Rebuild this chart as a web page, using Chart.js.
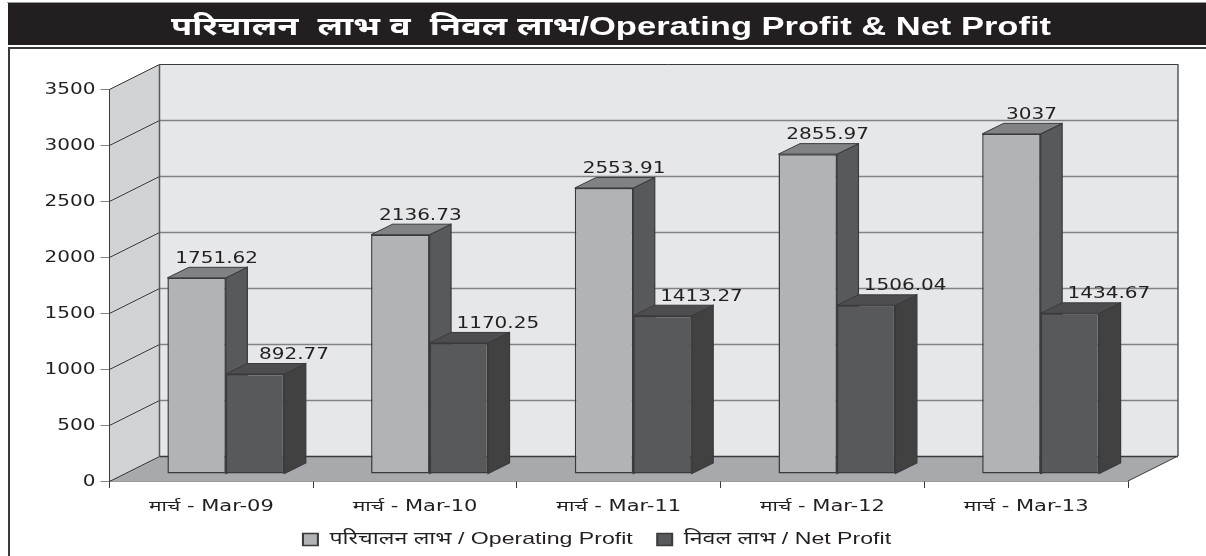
<!DOCTYPE html>
<html><head><meta charset="utf-8">
<style>html,body{margin:0;padding:0;background:#fff}canvas{display:block}</style>
<script src="https://cdn.jsdelivr.net/npm/chart.js@4"></script></head>
<body><div style="width:1206px;height:556px"><canvas id="c" width="1206" height="556"></canvas></div>
<script>
const categories = ['मार्च - Mar-09','मार्च - Mar-10','मार्च - Mar-11','मार्च - Mar-12','मार्च - Mar-13'];
const operatingProfit = [1751.62,2136.73,2553.91,2855.97,3037];
const netProfit = [892.77,1170.25,1413.27,1506.04,1434.67];
const seriesNames = ['परिचालन लाभ / Operating Profit','निवल लाभ / Net Profit'];
const titleText = 'परिचालन  लाभ व  निवल लाभ/Operating Profit & Net Profit';

const WALL = {dx:50, dy:-25}, FRONT = {dx:14.5, dy:-7}, BAR = {dx:21.5, dy:-10.5};
const sans = '"DejaVu Sans","Noto Sans",sans-serif';
const arial = '"Liberation Sans","Noto Sans",sans-serif';
const line = '#3a3a3c';
function poly(ctx, pts, fill, stroke, w){
  ctx.beginPath(); pts.forEach((p,i)=> i?ctx.lineTo(p[0],p[1]):ctx.moveTo(p[0],p[1])); ctx.closePath();
  if(fill){ctx.fillStyle=fill;ctx.fill();}
  if(stroke){ctx.strokeStyle=stroke;ctx.lineWidth=w||1;ctx.stroke();}
}
// The reference's type is stretched sideways: widen a box's drawing about a centre line.
function stretchBox(box, ctx, factor, cx){
  const orig = Object.getPrototypeOf(box).draw;
  box.draw = function(a){ ctx.save(); ctx.translate(cx,0); ctx.scale(factor,1); ctx.translate(-cx,0); orig.call(box,a); ctx.restore(); };
}
function stretchTicks(scale, ctx, factor, dy){
  const orig = Object.getPrototypeOf(scale).drawLabels;
  scale._computeLabelArea = ()=>undefined;
  scale.drawLabels = function(a){
    const items = scale.getLabelItems(a);
    items.forEach(it=>{
      const x = it.options.translation[0];
      scale._labelItems = [it];
      ctx.save(); ctx.translate(x,dy); ctx.scale(factor,1); ctx.translate(-x,0);
      orig.call(scale,a);
      ctx.restore();
    });
    scale._labelItems = items;
  };
}
const sideColors=['#58595b','#414142'], topColors=['#808285','#4d4d4f'];
const threeD = {
  id:'threeD',
  afterLayout(chart){
    const c=chart.ctx;
    chart.titleBlock.left+=8; chart.titleBlock.right+=8;
    stretchBox(chart.titleBlock,c,1.38,611);
    chart.legend.left-=6; chart.legend.right-=6; chart.legend.top+=2; chart.legend.bottom+=2;
    stretchBox(chart.legend,c,1.36,597);
    stretchTicks(chart.scales.y,c,1.25,1);
    stretchTicks(chart.scales.x,c,1.4,0);
  },
  beforeDraw(chart){
    const c=chart.ctx; c.save();
    c.fillStyle='#231f20'; c.fillRect(8,3,1198,42);
    c.fillStyle='#9a9a9a'; c.fillRect(7,2,1199,1);
    c.strokeStyle='#3a3a3c'; c.lineWidth=2;
    c.beginPath(); c.moveTo(9,560); c.lineTo(9,48); c.lineTo(1206,48); c.stroke();
    c.restore();
  },
  beforeDatasetsDraw(chart){
    const c=chart.ctx, a=chart.chartArea, y=chart.scales.y;
    c.save();
    const L=a.left,R=a.right,T=a.top,B=a.bottom,dx=WALL.dx,dy=WALL.dy;
    poly(c,[[L+dx,T+dy],[R+dx,T+dy],[R+dx,B+dy],[L+dx,B+dy]],'#e6e7e8');
    poly(c,[[L,T],[L+dx,T+dy],[L+dx,B+dy],[L,B]],'#d1d3d4');
    poly(c,[[L,B],[L+dx,B+dy],[R+dx,B+dy],[R,B]],'#a7a9ac');
    y.ticks.forEach(t=>{
      const py=Math.round(y.getPixelForValue(t.value))+.5;
      c.strokeStyle='#3a3a3c'; c.lineWidth=1;
      c.beginPath(); c.moveTo(L,py); c.lineTo(L+dx,py+dy); c.stroke();
      c.strokeStyle=t.value===0||t.value===3500?'#3a3a3c':'#808285'; c.lineWidth=t.value===3500?1:1.5;
      c.beginPath(); c.moveTo(L+dx,py+dy); c.lineTo(R+dx,py+dy); c.stroke();
    });
    c.strokeStyle='#58595b'; c.lineWidth=1.5;
    c.beginPath(); c.moveTo(L+dx,T+dy); c.lineTo(L+dx,B+dy);
    c.moveTo(R+dx,T+dy); c.lineTo(R+dx,B+dy); c.stroke();
    c.strokeStyle='#3a3a3c'; c.lineWidth=1;
    c.beginPath(); c.moveTo(R,B); c.lineTo(R+dx,B+dy); c.stroke();
    c.beginPath(); c.moveTo(L,T); c.lineTo(L,B); c.stroke();
    // side and top faces, left series first
    [0,1].forEach(di=>{
      chart.getDatasetMeta(di).data.forEach(el=>{
        const p=el.getProps(['x','y','base','width'],true);
        const xl=p.x-p.width/2+FRONT.dx, xr=p.x+p.width/2+FRONT.dx, yt=p.y+FRONT.dy, yb=p.base+FRONT.dy;
        poly(c,[[xr,yt],[xr+BAR.dx,yt+BAR.dy],[xr+BAR.dx,yb+BAR.dy],[xr,yb]],sideColors[di],line,1.2);
        poly(c,[[xl,yt],[xl+BAR.dx,yt+BAR.dy],[xr+BAR.dx,yt+BAR.dy],[xr,yt]],topColors[di],line,1);
      });
    });
    c.restore();
    c.save(); c.translate(FRONT.dx,FRONT.dy);
  },
  afterDatasetsDraw(chart){
    const c=chart.ctx; c.restore();
    [[operatingProfit,20],[netProfit,39]].forEach((s,di)=>{
      chart.getDatasetMeta(di).data.forEach((el,i)=>{
        c.save();
        c.font='16px '+sans; c.fillStyle='#231f20'; c.textAlign='center'; c.textBaseline='middle';
        c.translate(el.x+FRONT.dx+s[1],el.y+FRONT.dy-19); c.scale(1.25,1);
        c.fillText(String(s[0][i]),0,0);
        c.restore();
      });
    });
  }
};
new Chart(document.getElementById('c'),{
  type:'bar',
  data:{labels:categories,datasets:[
    {label:seriesNames[0],data:operatingProfit,backgroundColor:'#b1b3b5',borderColor:line,borderWidth:1.5,borderSkipped:false,categoryPercentage:.574,barPercentage:1},
    {label:seriesNames[1],data:netProfit,backgroundColor:'#58595b',borderColor:line,borderWidth:1.5,borderSkipped:false,categoryPercentage:.574,barPercentage:1}
  ]},
  plugins:[threeD],
  options:{
    responsive:false,animation:false,devicePixelRatio:1,
    layout:{padding:0},
    plugins:{
      tooltip:{enabled:false},
      title:{display:true,text:titleText,color:'#fff',font:{family:arial,size:25,weight:'bold',lineHeight:1.2},padding:{top:13,bottom:46}},
      legend:{display:true,position:'bottom',labels:{color:'#231f20',font:{family:arial,size:17},boxWidth:11,boxHeight:12,padding:18,
        sort:(a,b)=>a.datasetIndex-b.datasetIndex}}
    },
    scales:{
      x:{position:'bottom',offset:true,
        grid:{display:true,offset:true,drawOnChartArea:false,color:'#3a3a3c',tickLength:7,tickColor:'#3a3a3c'},
        border:{display:true,color:'#3a3a3c',width:1.5},
        ticks:{color:'#231f20',font:{family:sans,size:15},padding:10,maxRotation:0,autoSkip:false},
        afterFit(s){s.height=30;}},
      y:{position:'left',min:0,max:3500,
        grid:{display:true,drawOnChartArea:false,color:'#808285',tickLength:9,tickColor:'#808285'},
        border:{display:false},
        ticks:{stepSize:500,color:'#231f20',font:{family:sans,size:16},padding:5,callback:v=>String(v)},
        afterFit(s){s.width=109.5;}},
      r:{position:'right',display:true,grid:{display:false},border:{display:false},ticks:{display:false},
        afterFit(s){s.width=78;}}
    }
  }
});
</script></body></html>
